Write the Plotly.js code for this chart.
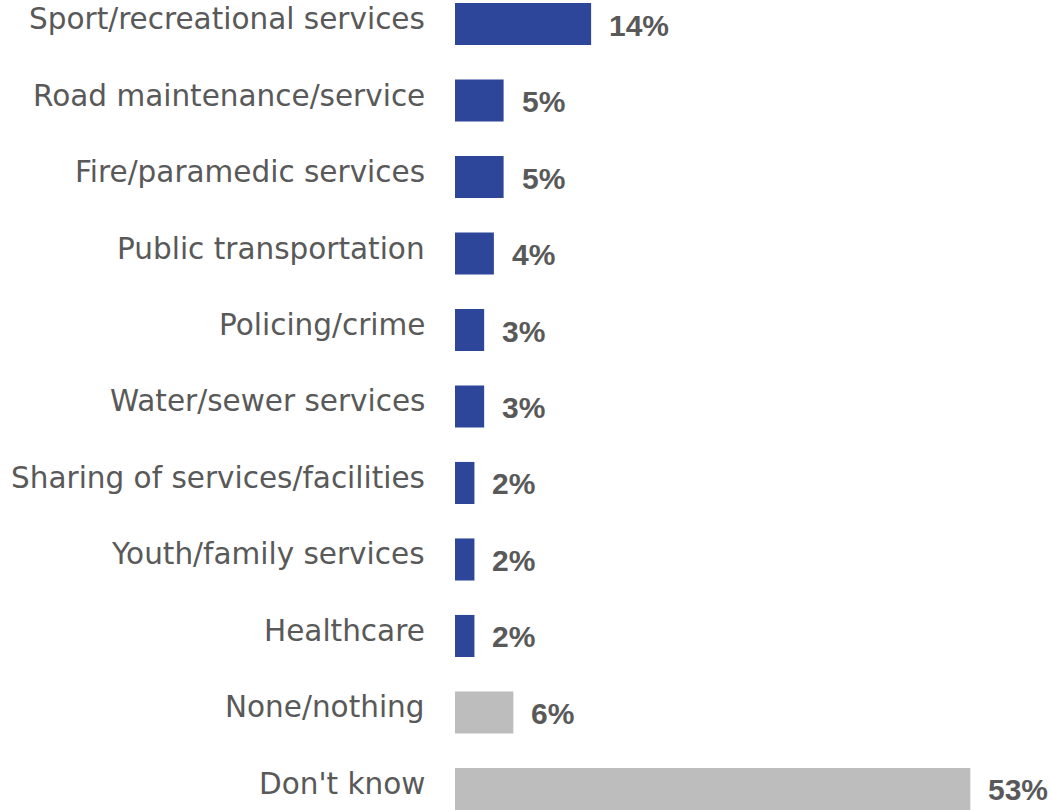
<!DOCTYPE html>
<html>
<head>
<meta charset="utf-8">
<script src="https://cdn.plot.ly/plotly-3.0.1.min.js"></script>
<style>
  html, body { margin: 0; padding: 0; background: #ffffff; }
  #chart { width: 1051px; height: 810px; }
</style>
</head>
<body>
<div id="chart"></div>
<script>
const categories = [
  "Sport/recreational services",
  "Road maintenance/service",
  "Fire/paramedic services",
  "Public transportation",
  "Policing/crime",
  "Water/sewer services",
  "Sharing of services/facilities",
  "Youth/family services",
  "Healthcare",
  "None/nothing",
  "Don't know"
];
const values = [14, 5, 5, 4, 3, 3, 2, 2, 2, 6, 53];
const valueLabels = ["14%", "5%", "5%", "4%", "3%", "3%", "2%", "2%", "2%", "6%", "53%"];
const barColors = ["#2E4699", "#2E4699", "#2E4699", "#2E4699", "#2E4699", "#2E4699",
                   "#2E4699", "#2E4699", "#2E4699", "#BDBDBD", "#BDBDBD"];

const CAT_FONT = "'DejaVu Sans', 'Open Sans', sans-serif";
const VAL_FONT = "'Liberation Sans', Arial, sans-serif";
const TEXT = "#595959";

const annotations = [];
categories.forEach((c, i) => {
  annotations.push({
    xref: "paper", yref: "y", x: 0, y: c, text: c,
    xanchor: "right", yanchor: "middle", xshift: -28, yshift: 5,
    showarrow: false,
    font: { family: CAT_FONT, size: 29.5, color: TEXT }
  });
  annotations.push({
    xref: "x", yref: "y", x: values[i], y: c, text: "<b>" + valueLabels[i] + "</b>",
    xanchor: "left", yanchor: "middle", xshift: 16, yshift: -1,
    showarrow: false,
    font: { family: VAL_FONT, size: 30, color: TEXT }
  });
});

const trace = {
  type: "bar",
  orientation: "h",
  y: categories,
  x: values,
  marker: { color: barColors, line: { width: 0 } },
  hoverinfo: "skip"
};

const layout = {
  width: 1051,
  height: 810,
  margin: { l: 455, r: 0, t: 0, b: 0, pad: 0 },
  paper_bgcolor: "#ffffff",
  plot_bgcolor: "#ffffff",
  showlegend: false,
  bargap: 0.45,
  xaxis: { range: [0, 61.3], visible: false, fixedrange: true },
  yaxis: {
    type: "category",
    range: [10.275, -0.314],
    showticklabels: false,
    showgrid: false, zeroline: false, showline: false, ticks: "",
    fixedrange: true
  },
  annotations: annotations
};

Plotly.newPlot("chart", [trace], layout, { displayModeBar: false, staticPlot: true });
</script>
</body>
</html>
